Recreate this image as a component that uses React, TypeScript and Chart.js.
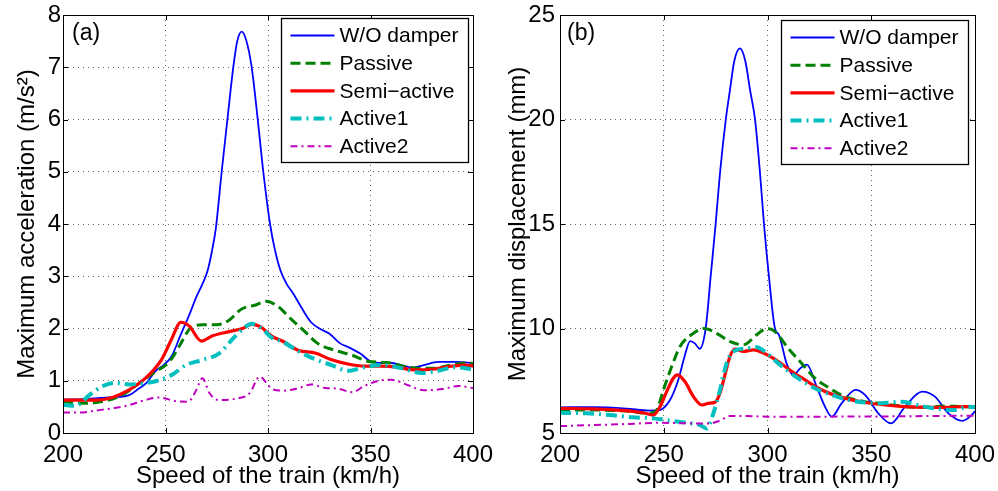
import React, { useEffect, useRef } from "react";
import { Chart, registerables } from "chart.js";

Chart.register(...registerables);
Chart.defaults.font.family = "'Liberation Sans', Arial, Helvetica, sans-serif";

// ---------- labels & ticks ----------
const SERIES_LABELS = ["W/O damper", "Passive", "Semi\u2212active", "Active1", "Active2"];
const SPEED_TICKS = [200, 250, 300, 350, 400];
const ACC_TICKS = [0, 1, 2, 3, 4, 5, 6, 7, 8];
const DISP_TICKS = [5, 10, 15, 20, 25];

// ---------- (a) maximum acceleration ----------
const accWoSpeed = [200, 210, 218, 226, 232, 237, 241, 245, 249, 253, 257, 262, 265, 268, 270.5, 272.5, 274.5, 277.4, 280.2, 283.1, 285, 287.2, 289.5, 292, 295, 297.7, 301, 303.4, 306, 309, 312.3, 316, 321, 326, 330, 335, 340, 345, 350, 355, 360, 365, 370, 376, 383, 392, 400];
const accWoValue = [0.64, 0.65, 0.67, 0.69, 0.72, 0.85, 0.97, 1.18, 1.3, 1.47, 1.84, 2.3, 2.6, 2.85, 3.1, 3.45, 3.9, 5.0, 6.0, 7.01, 7.5, 7.68, 7.5, 7.01, 6.0, 5.0, 4.0, 3.5, 3.12, 2.86, 2.67, 2.42, 2.12, 1.98, 1.9, 1.72, 1.63, 1.52, 1.37, 1.34, 1.34, 1.3, 1.25, 1.3, 1.36, 1.36, 1.34];

const accPassiveSpeed = [200, 210, 219, 229, 237, 245, 252, 257, 262, 268, 275, 281, 287, 294, 299, 305, 311, 318, 324, 332, 341, 349, 358, 366, 373, 381, 389, 397, 400];
const accPassiveValue = [0.6, 0.57, 0.6, 0.73, 0.95, 1.17, 1.37, 1.68, 2.0, 2.07, 2.07, 2.16, 2.37, 2.45, 2.52, 2.42, 2.19, 1.94, 1.72, 1.59, 1.49, 1.37, 1.35, 1.28, 1.24, 1.24, 1.3, 1.34, 1.33];

const accSemiSpeed = [200, 216, 224, 232, 240, 248, 253, 257.5, 261.5, 267.5, 273, 281, 287.5, 292, 296, 302, 307, 315, 323, 331, 339, 347, 355, 363, 371, 380, 388, 396, 400];
const accSemiValue = [0.63, 0.63, 0.68, 0.82, 1.04, 1.4, 1.8, 2.12, 2.05, 1.76, 1.86, 1.94, 2.0, 2.08, 2.04, 1.85, 1.76, 1.58, 1.53, 1.4, 1.32, 1.28, 1.28, 1.26, 1.21, 1.22, 1.27, 1.3, 1.28];

const accActive1Speed = [200, 206, 213, 219, 226, 232, 239, 247, 253, 260, 268, 276, 283, 288, 292, 297, 302, 307, 315, 323, 331, 339, 347, 355, 363, 375, 383, 391, 400];
const accActive1Value = [0.54, 0.52, 0.73, 0.89, 0.96, 0.93, 0.95, 1.01, 1.11, 1.3, 1.4, 1.52, 1.81, 2.0, 2.09, 2.0, 1.82, 1.75, 1.56, 1.41, 1.3, 1.19, 1.26, 1.3, 1.26, 1.15, 1.19, 1.26, 1.22];

const accActive2Speed = [200, 208, 216, 224, 232, 240, 247, 255, 261, 265, 268, 271.5, 276, 284.5, 291, 296, 300, 302, 308, 315, 321, 328, 334, 341, 347, 354, 360, 368, 376, 385, 393, 400];
const accActive2Value = [0.39, 0.39, 0.43, 0.47, 0.53, 0.63, 0.68, 0.61, 0.6, 0.82, 1.05, 0.76, 0.63, 0.66, 0.76, 1.08, 0.92, 0.84, 0.81, 0.86, 0.93, 0.86, 0.85, 0.78, 0.9, 1.0, 1.02, 0.92, 0.82, 0.84, 0.9, 0.86];

// ---------- (b) maximum displacement ----------
const dispWoSpeed = [200, 216, 232, 243, 248, 253, 257, 260, 262.7, 265, 267.3, 270.2, 272.6, 275, 277.1, 279.9, 281.9, 284, 286.7, 289.3, 291.6, 294, 296.4, 298.3, 300.7, 303.6, 305.5, 309.2, 312.5, 315.7, 319, 323.7, 327.7, 331, 335.7, 342.5, 347, 353.4, 359.5, 366.3, 374.5, 380.7, 387.2, 394, 398.4, 400];
const dispWoValue = [6.23, 6.24, 6.17, 6.07, 6.1, 6.58, 7.54, 8.65, 9.4, 9.29, 9.03, 10.0, 12.48, 15.0, 17.43, 20.0, 21.41, 22.8, 23.4, 22.8, 21.41, 20.0, 17.43, 15.0, 12.48, 10.0, 9.7, 8.33, 7.77, 8.09, 8.27, 7.21, 6.26, 5.78, 6.42, 7.06, 6.82, 5.94, 5.46, 6.26, 6.98, 6.74, 5.94, 5.58, 5.86, 6.05];

const dispPassiveSpeed = [200, 216, 232, 243.4, 246.6, 249.8, 253.8, 257.8, 264.3, 269.5, 275.5, 282, 288.4, 294.8, 299.6, 303.6, 310, 316.5, 323, 329.3, 337.4, 347, 356.6, 366.3, 375.9, 385.5, 395, 400];
const dispPassiveValue = [6.1, 6.1, 6.05, 5.94, 6.1, 7.06, 8.17, 9.13, 9.77, 10.0, 9.77, 9.37, 9.22, 9.7, 10.0, 9.85, 9.05, 8.33, 7.61, 7.18, 6.74, 6.5, 6.39, 6.26, 6.23, 6.29, 6.26, 6.26];

const dispSemiSpeed = [200, 216, 232, 240, 245, 248.2, 251.4, 254.6, 256.5, 260.2, 264.3, 268.3, 271.5, 274.7, 277.1, 279.5, 281.9, 284.3, 288.4, 293.2, 299, 305.2, 311.7, 318.1, 324.5, 331, 339, 347, 356.6, 366.3, 375.9, 385.5, 395, 400];
const dispSemiValue = [6.18, 6.15, 6.07, 5.97, 5.86, 6.26, 6.98, 7.62, 7.78, 7.46, 6.74, 6.34, 6.42, 6.47, 6.9, 7.78, 8.66, 9.02, 8.9, 8.98, 8.78, 8.42, 7.94, 7.54, 7.14, 6.86, 6.62, 6.46, 6.34, 6.26, 6.23, 6.23, 6.26, 6.26];

const dispActive1Speed = [200, 213, 224, 235, 245, 253, 261, 267.5, 270.7, 273.9, 277.1, 280.3, 283.5, 290, 294.8, 299.6, 305.2, 314.9, 322.9, 331, 339, 347, 355, 364.7, 374.3, 383.9, 390.4, 396.8, 400];
const dispActive1Value = [5.97, 5.94, 5.86, 5.75, 5.7, 5.59, 5.49, 5.38, 5.22, 5.94, 7.06, 8.33, 8.9, 9.05, 9.1, 8.82, 8.33, 7.61, 7.14, 6.82, 6.58, 6.46, 6.42, 6.5, 6.29, 6.13, 6.1, 6.26, 6.23];

const dispActive2Speed = [200, 216, 232, 248, 264, 272, 277, 282, 290, 300, 350, 400];
const dispActive2Value = [5.33, 5.38, 5.43, 5.49, 5.46, 5.46, 5.59, 5.81, 5.81, 5.78, 5.79, 5.83];

// ---------- styles ----------
const LINE_STYLES = [
  { color: "#0000ff", width: 1.8, dash: [] as number[] },
  { color: "#008000", width: 3, dash: [10, 5] },
  { color: "#ff0000", width: 3.2, dash: [] as number[] },
  { color: "#00bfbf", width: 4, dash: [11, 5, 2, 5] },
  { color: "#bf00bf", width: 2, dash: [7, 4, 2, 4] },
];

const FONT = "'Liberation Sans', Arial, Helvetica, sans-serif";

type PanelSpec = {
  label: string;
  speeds: number[][];
  values: number[][];
  yTicks: number[];
  yTitle: string;
  yWidth: number;
  rightPad: number;
  yTickGap: number;
  yTitlePad: number;
  legendInsetRight: number;
  legendInsetTop: number;
  labelInset: number;
};

function makeFramePlugin(spec: PanelSpec) {
  return {
    id: "frameAndLegend",
    afterDatasetsDraw(chart: any) {
      const { ctx, chartArea: a, scales } = chart;
      ctx.save();
      ctx.setLineDash([]);
      ctx.strokeStyle = "#000";
      ctx.lineWidth = 1;
      // inward tick marks on all four sides
      const tl = 5;
      ctx.beginPath();
      for (const v of SPEED_TICKS) {
        const px = Math.round(scales.x.getPixelForValue(v)) + 0.5;
        ctx.moveTo(px, a.bottom);
        ctx.lineTo(px, a.bottom - tl);
        ctx.moveTo(px, a.top);
        ctx.lineTo(px, a.top + tl);
      }
      for (const v of spec.yTicks) {
        const py = Math.round(scales.y.getPixelForValue(v)) + 0.5;
        ctx.moveTo(a.left, py);
        ctx.lineTo(a.left + tl, py);
        ctx.moveTo(a.right, py);
        ctx.lineTo(a.right - tl, py);
      }
      ctx.stroke();
      // axes box
      ctx.strokeRect(Math.round(a.left) + 0.5, Math.round(a.top) + 0.5, Math.round(a.right - a.left), Math.round(a.bottom - a.top));

      // panel label
      ctx.fillStyle = "#000";
      ctx.font = `23px ${FONT}`;
      ctx.textBaseline = "middle";
      ctx.textAlign = "left";
      ctx.fillText(spec.label, a.left + spec.labelInset, a.top + 19);

      // legend
      const lw = 187;
      const lh = 144;
      const lx = Math.round(a.right - spec.legendInsetRight - lw) + 0.5;
      const ly = Math.round(a.top + spec.legendInsetTop) + 0.5;
      ctx.fillStyle = "#fff";
      ctx.fillRect(lx, ly, lw, lh);
      ctx.lineWidth = 1.3;
      ctx.strokeStyle = "#000";
      ctx.strokeRect(lx, ly, lw, lh);
      ctx.font = `21px ${FONT}`;
      chart.data.datasets.forEach((ds: any, i: number) => {
        const cy = ly + 17 + i * 27.7;
        ctx.beginPath();
        ctx.strokeStyle = ds.borderColor;
        ctx.lineWidth = ds.borderWidth;
        ctx.setLineDash(ds.borderDash || []);
        ctx.moveTo(lx + 9, cy);
        ctx.lineTo(lx + 53, cy);
        ctx.stroke();
        ctx.setLineDash([]);
        ctx.fillStyle = "#000";
        ctx.fillText(ds.label, lx + 58, cy + 1);
      });
      ctx.restore();
    },
  };
}

function makeConfig(spec: PanelSpec): any {
  const datasets = SERIES_LABELS.map((label, i) => ({
    label,
    data: spec.speeds[i].map((x, j) => ({ x, y: spec.values[i][j] })),
    borderColor: LINE_STYLES[i].color,
    borderWidth: LINE_STYLES[i].width,
    borderDash: LINE_STYLES[i].dash,
    pointRadius: 0,
    fill: false,
    cubicInterpolationMode: "monotone",
    order: SERIES_LABELS.length - i,
  }));
  const yMin = spec.yTicks[0];
  const yMax = spec.yTicks[spec.yTicks.length - 1];
  return {
    type: "line",
    data: { datasets },
    plugins: [makeFramePlugin(spec)],
    options: {
      responsive: false,
      animation: false,
      devicePixelRatio: 1,
      layout: { padding: { top: 15, right: spec.rightPad, left: 0, bottom: 0 } },
      plugins: { legend: { display: false }, tooltip: { enabled: false } },
      scales: {
        x: {
          type: "linear",
          min: SPEED_TICKS[0],
          max: SPEED_TICKS[SPEED_TICKS.length - 1],
          afterBuildTicks: (s: any) => {
            s.ticks = SPEED_TICKS.map((value) => ({ value }));
          },
          afterFit: (s: any) => {
            s.height = 58;
          },
          ticks: {
            autoSkip: false,
            maxRotation: 0,
            padding: 1,
            color: "#000",
            font: { size: 24, family: FONT },
          },
          grid: {
            color: "rgba(0,0,0,0.6)",
            lineWidth: 1,
            drawTicks: true,
            tickLength: 7,
            tickColor: "rgba(0,0,0,0)",
          },
          border: { display: false, dash: [1, 4] },
          title: {
            display: true,
            text: "Speed of the train (km/h)",
            color: "#000",
            font: { size: 24, family: FONT },
            padding: { top: 0, bottom: 0 },
          },
        },
        y: {
          type: "linear",
          min: yMin,
          max: yMax,
          afterBuildTicks: (s: any) => {
            s.ticks = spec.yTicks.map((value) => ({ value }));
          },
          afterFit: (s: any) => {
            s.width = spec.yWidth;
          },
          ticks: {
            autoSkip: false,
            padding: 0,
            color: "#000",
            font: { size: 24, family: FONT },
          },
          grid: {
            color: "rgba(0,0,0,0.6)",
            lineWidth: 1,
            drawTicks: true,
            tickLength: spec.yTickGap,
            tickColor: "rgba(0,0,0,0)",
          },
          border: { display: false, dash: [1, 4] },
          title: {
            display: true,
            text: spec.yTitle,
            color: "#000",
            font: { size: 24, family: FONT },
            padding: { top: spec.yTitlePad, bottom: 0 },
          },
        },
      },
    },
  };
}

const PANEL_A: PanelSpec = {
  label: "(a)",
  speeds: [accWoSpeed, accPassiveSpeed, accSemiSpeed, accActive1Speed, accActive2Speed],
  values: [accWoValue, accPassiveValue, accSemiValue, accActive1Value, accActive2Value],
  yTicks: ACC_TICKS,
  yTitle: "Maximum acceleration (m/s\u00b2)",
  yWidth: 63,
  rightPad: 26,
  yTickGap: 2,
  yTitlePad: 12.6,
  legendInsetRight: 5,
  legendInsetTop: 3,
  labelInset: 9,
};

const PANEL_B: PanelSpec = {
  label: "(b)",
  speeds: [dispWoSpeed, dispPassiveSpeed, dispSemiSpeed, dispActive1Speed, dispActive2Speed],
  values: [dispWoValue, dispPassiveValue, dispSemiValue, dispActive1Value, dispActive2Value],
  yTicks: DISP_TICKS,
  yTitle: "Maximum displacement (mm)",
  yWidth: 61,
  rightPad: 23,
  yTickGap: 5,
  yTitlePad: 4.6,
  legendInsetRight: 7,
  legendInsetTop: 5,
  labelInset: 7,
};

function Panel({ spec }: { spec: PanelSpec }) {
  const ref = useRef<HTMLCanvasElement | null>(null);
  useEffect(() => {
    if (!ref.current) return;
    const chart = new Chart(ref.current, makeConfig(spec));
    return () => chart.destroy();
  }, [spec]);
  return (
    <canvas
      ref={ref}
      width={499}
      height={491}
      style={{ display: "block", width: 499, height: 491 }}
    />
  );
}

export default function App() {
  return (
    <div
      style={{
        position: "absolute",
        left: 0,
        top: 0,
        width: 998,
        height: 491,
        display: "flex",
        background: "#fff",
      }}
    >
      <Panel spec={PANEL_A} />
      <Panel spec={PANEL_B} />
    </div>
  );
}
